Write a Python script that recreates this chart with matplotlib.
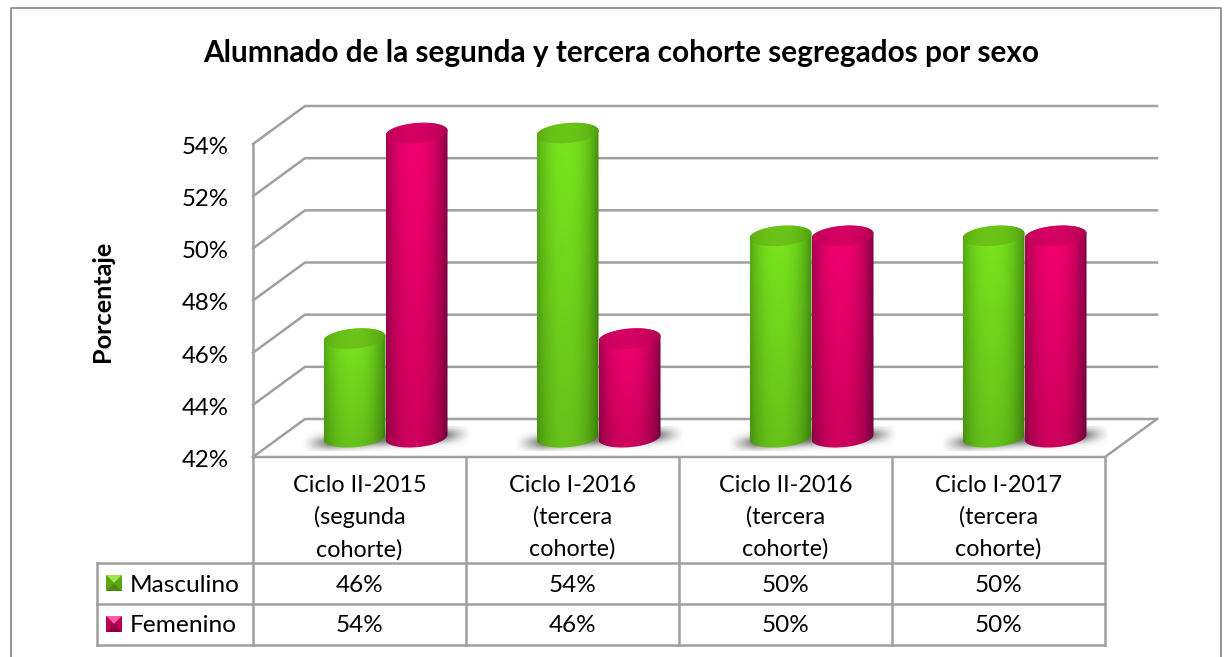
import numpy as np
import matplotlib
matplotlib.use('Agg')
import matplotlib.pyplot as plt
from matplotlib.path import Path
from matplotlib.patches import PathPatch, Polygon, Rectangle

plt.rcParams['font.family'] = ['Lato', 'DejaVu Sans']

# datos del grafico
title = 'Alumnado de la segunda y tercera cohorte segregados por sexo'
y_label = 'Porcentaje'
categories = ['Ciclo II-2015\n(segunda\ncohorte)', 'Ciclo I-2016\n(tercera\ncohorte)',
              'Ciclo II-2016\n(tercera\ncohorte)', 'Ciclo I-2017\n(tercera\ncohorte)']
masculino = [46, 54, 50, 50]
femenino = [54, 46, 50, 50]
y_ticks = [42, 44, 46, 48, 50, 52, 54]

W, H = 1225, 657
GRID = '#a0a0a0'
LEFT, RIGHT, BOTTOM, TOP = 253, 1105, 457, 144
DEPTH_PX_X, DEPTH_PX_Y = 52, 38

fig = plt.figure(figsize=(W / 100, H / 100), dpi=100)

# capa en pixeles para marco y tabla
page = fig.add_axes([0, 0, 1, 1])
page.set_xlim(0, W)
page.set_ylim(H, 0)
page.axis('off')

# ejes del grafico: x por categoria, y en porcentaje
ax = fig.add_axes([LEFT / W, 1 - BOTTOM / H, (RIGHT - LEFT) / W, (BOTTOM - TOP) / H])
ax.set_xlim(0, len(categories))
ax.set_ylim(y_ticks[0], y_ticks[-1])
ax.axis('off')
ax.autoscale(False)

px_x = (RIGHT - LEFT) / len(categories)
px_y = (BOTTOM - TOP) / (y_ticks[-1] - y_ticks[0])
dx = DEPTH_PX_X / px_x
dy = DEPTH_PX_Y / px_y

# marco exterior
page.plot([11, 11, 1221, 1221], [H + 5, 8, 8, H + 5], color='#8c8c8c', lw=1.3, clip_on=False)

# rejilla 3D
n = len(categories)
for v in y_ticks:
    ax.plot([0, dx, n + dx], [v, v + dy, v + dy], color=GRID, lw=1.8, clip_on=False, zorder=1)
ax.plot([0, 0], [y_ticks[0], y_ticks[-1]], color=GRID, lw=1.8, clip_on=False, zorder=1)
ax.plot([0, n, n + dx], [y_ticks[0], y_ticks[0], y_ticks[0] + dy], color=GRID, lw=1.8,
        clip_on=False, zorder=1)

for v in y_ticks:
    ax.text(-0.113, v - 0.13, f'{v}%', ha='right', va='center', fontsize=17.3, color='black', clip_on=False)


def cylinder_image(edge, centre, fade, rows=60, cols=120):
    u = np.linspace(-1, 1, cols)
    shade = np.clip(1 - np.abs((u + 0.08) / 1.08) ** 2.2, 0, 1) ** 0.8
    edge = np.array(matplotlib.colors.to_rgb(edge))
    centre = np.array(matplotlib.colors.to_rgb(centre))
    row = edge[None, :] + (centre - edge)[None, :] * shade[:, None]
    v = np.linspace(fade, 1, rows)[:, None, None]
    return row[None, :, :] * v


def ellipse_xy(xc, yc, a, b, tilt, t):
    return xc + a * np.cos(t), yc + b * np.sin(t) + tilt * np.cos(t)


def draw_cylinder(xc, base, top, width, edge, centre, top_edge, top_centre, zorder):
    a = width / 2
    b = 10 / px_y
    tilt = 2.5 / px_y
    t_low = np.linspace(np.pi, 2 * np.pi, 50)
    t_up = np.linspace(0, np.pi, 50)
    xl, yl = ellipse_xy(xc, base, a, b, tilt, t_low)
    xu, yu = ellipse_xy(xc, top, a, b, tilt, t_up)
    verts = np.column_stack([np.r_[xl, xu], np.r_[yl, yu]])
    body = PathPatch(Path(np.vstack([verts, verts[0]]), closed=True), transform=ax.transData,
                     fc='none', ec='none')
    ax.add_patch(body)
    body.set_clip_on(False)
    im = ax.imshow(cylinder_image(edge, centre, 0.84), extent=[xc - a, xc + a, base - b - tilt, top + b + tilt],
                   origin='lower', aspect='auto', zorder=zorder, interpolation='bilinear')
    im.set_clip_box(fig.bbox)
    im.set_clip_path(body)

    t = np.linspace(0, 2 * np.pi, 100)
    xt, yt = ellipse_xy(xc, top, a, b, tilt, t)
    cap = PathPatch(Path(np.column_stack([xt, yt]), closed=True), transform=ax.transData,
                    fc='none', ec='none')
    ax.add_patch(cap)
    cap.set_clip_on(False)
    # la tapa es algo mas oscura arriba y mas clara hacia el borde de abajo
    im2 = ax.imshow(cylinder_image(top_edge, top_centre, 1.0, rows=20),
                    extent=[xc - a, xc + a, top - b - tilt, top + b + tilt],
                    origin='upper', aspect='auto', zorder=zorder + 0.1, interpolation='bilinear')
    im2.set_clip_box(fig.bbox)
    im2.set_clip_path(cap)


def draw_shadow(x0, x1, y0, y1):
    xs = np.linspace(0, 1, 200)
    ys = np.linspace(0, 1, 50)
    fx = np.clip(np.minimum(xs / 0.16, (1 - xs) / 0.16), 0, 1) ** 1.2
    # banda inclinada: mas baja a la izquierda, mas alta a la derecha
    centre = 0.28 + 0.42 * xs
    rgba = np.zeros((50, 200, 4))
    rgba[..., :3] = 0.42
    rgba[..., 3] = 0.95 * fx[None, :] * np.exp(-((ys[:, None] - centre[None, :]) / 0.27) ** 2)
    im = ax.imshow(rgba, extent=[x0, x1, y0, y1], origin='lower', aspect='auto', zorder=2,
                   interpolation='bilinear')
    im.set_clip_box(fig.bbox)


# columnas
bar_w = 62 / px_x
bar_scale = 0.985
base_y = y_ticks[0] + dy / 2
top_drop = 0.13
for i, (m, f) in enumerate(zip(masculino, femenino)):
    xmid = i + 0.5 + dx / 2
    draw_shadow(xmid - bar_w - 0.10, xmid + bar_w + 0.11, base_y - 0.48, base_y + 0.45)
    draw_cylinder(xmid - bar_w / 2, base_y + 0.03, base_y + (m - y_ticks[0]) * bar_scale - top_drop, bar_w,
                  '#3f8a0c', '#7ae61e', '#4f9a10', '#6cc418', zorder=3 + i)
    draw_cylinder(xmid + bar_w / 2, base_y + 0.03, base_y + (f - y_ticks[0]) * bar_scale - top_drop, bar_w,
                  '#7a0040', '#f5006f', '#a80050', '#d40062', zorder=3.5 + i)

# tabla de datos
row_y = [563, 604, 645]
for i in range(n + 1):
    x = LEFT + i * px_x
    page.plot([x, x], [BOTTOM, row_y[-1]], color=GRID, lw=1.8)
page.plot([97, 97], [row_y[0], row_y[-1]], color=GRID, lw=1.8)
for y in row_y:
    page.plot([97, RIGHT], [y, y], color=GRID, lw=1.8)

for i, lab in enumerate(categories):
    page.text(LEFT + (i + 0.5) * px_x, 517.5, lab, ha='center', va='center', fontsize=16.8,
              linespacing=1.6)
    page.text(LEFT + (i + 0.5) * px_x, 585, f'{masculino[i]}%', ha='center', va='center', fontsize=17.5)
    page.text(LEFT + (i + 0.5) * px_x, 626, f'{femenino[i]}%', ha='center', va='center', fontsize=17.5)


def legend_key(x, y, s, base, light, dark, side):
    page.add_patch(Rectangle((x, y), s, s, fc=base, ec='none'))
    cx, cy = x + s / 2, y + s / 2
    page.add_patch(Polygon([(x, y), (x + s, y), (cx, cy)], fc=light, ec='none'))
    page.add_patch(Polygon([(x, y + s), (x + s, y + s), (cx, cy)], fc=dark, ec='none'))
    page.add_patch(Polygon([(x, y), (x, y + s), (cx, cy)], fc=side, ec='none'))
    page.add_patch(Polygon([(x + s, y), (x + s, y + s), (cx, cy)], fc=side, ec='none'))


legend_key(106, 575, 16, '#6cbe1a', '#9ae64a', '#4a8a10', '#5ca616')
legend_key(106, 616, 16, '#d80064', '#ff5aa8', '#90003f', '#b80056')
page.text(130, 585, 'Masculino', ha='left', va='center', fontsize=17.6)
page.text(130, 626, 'Femenino', ha='left', va='center', fontsize=17.6)

page.text(621, 53, title, ha='center', va='center', fontsize=21.4, fontweight='bold')
page.text(102, 301, y_label, ha='center', va='center', rotation=90, fontsize=18.2, fontweight='bold')

fig.savefig('out.png', dpi=100, facecolor='white')
